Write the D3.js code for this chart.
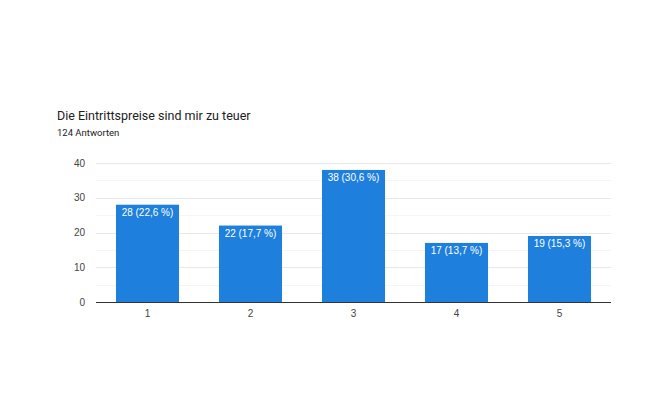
<!DOCTYPE html>
<html><head><meta charset="utf-8">
<script src="https://cdn.jsdelivr.net/npm/d3@7"></script>
<style>body{margin:0;background:#fff;}svg{display:block;font-family:Roboto,Arial,sans-serif;}</style>
</head><body><svg id="c" width="660" height="396"></svg>
<script>
const categories = ["1","2","3","4","5"];
const values = [28,22,38,17,19];
const labels = ["28 (22,6 %)","22 (17,7 %)","38 (30,6 %)","17 (13,7 %)","19 (15,3 %)"];
const yTicks = [0,10,20,30,40];
const minorTicks = [5,15,25,35];
const title = "Die Eintrittspreise sind mir zu teuer";
const subtitle = "124 Antworten";

const svg = d3.select("#c");
const x = d3.scaleBand().domain(categories).range([96,611]).paddingInner(0.388).paddingOuter(0.194);
const y = d3.scaleLinear().domain([0,40]).range([302,163]);

svg.append("text").attr("x",57).attr("y",120).attr("font-size",12.5).attr("fill","#202124").text(title);
svg.append("text").attr("x",57).attr("y",136).attr("font-size",9.5).attr("fill","#202124").text(subtitle);

svg.append("g").selectAll("line").data(minorTicks).join("line")
  .attr("x1",96).attr("x2",611).attr("y1",d=>Math.round(y(d))+0.5).attr("y2",d=>Math.round(y(d))+0.5)
  .attr("stroke","#f5f5f5");
svg.append("g").selectAll("line").data(yTicks.filter(d=>d>0)).join("line")
  .attr("x1",96).attr("x2",611).attr("y1",d=>Math.round(y(d))+0.5).attr("y2",d=>Math.round(y(d))+0.5)
  .attr("stroke","#e8e8e8");

const yAxis = d3.axisLeft(y).tickValues(yTicks).tickSize(0).tickPadding(11);
const ga = svg.append("g").attr("transform","translate(96,0)").call(yAxis);
ga.select(".domain").remove();
ga.selectAll("text").attr("font-size",10).attr("fill","#444").attr("font-family","Arial,'Liberation Sans',sans-serif");

svg.append("g").selectAll("rect").data(values).join("rect")
  .attr("x",(d,i)=>x(categories[i])).attr("width",x.bandwidth())
  .attr("y",d=>y(d)).attr("height",d=>y(0)-y(d)).attr("fill","#1e80dc");

svg.append("g").selectAll("text").data(values).join("text")
  .attr("x",(d,i)=>x(categories[i])+x.bandwidth()/2).attr("y",d=>y(d)+11.5)
  .attr("text-anchor","middle").attr("font-size",10).attr("fill","#fff")
  .attr("font-family","Arial,'Liberation Sans',sans-serif").text((d,i)=>labels[i]);

const xAxis = d3.axisBottom(x).tickSize(0).tickPadding(8);
const gx = svg.append("g").attr("transform","translate(0,302)").call(xAxis);
gx.select(".domain").attr("stroke","#333").attr("d","M96,0.5H611");
gx.selectAll("text").attr("font-size",10).attr("fill","#444").attr("font-family","Arial,'Liberation Sans',sans-serif");
</script></body></html>
